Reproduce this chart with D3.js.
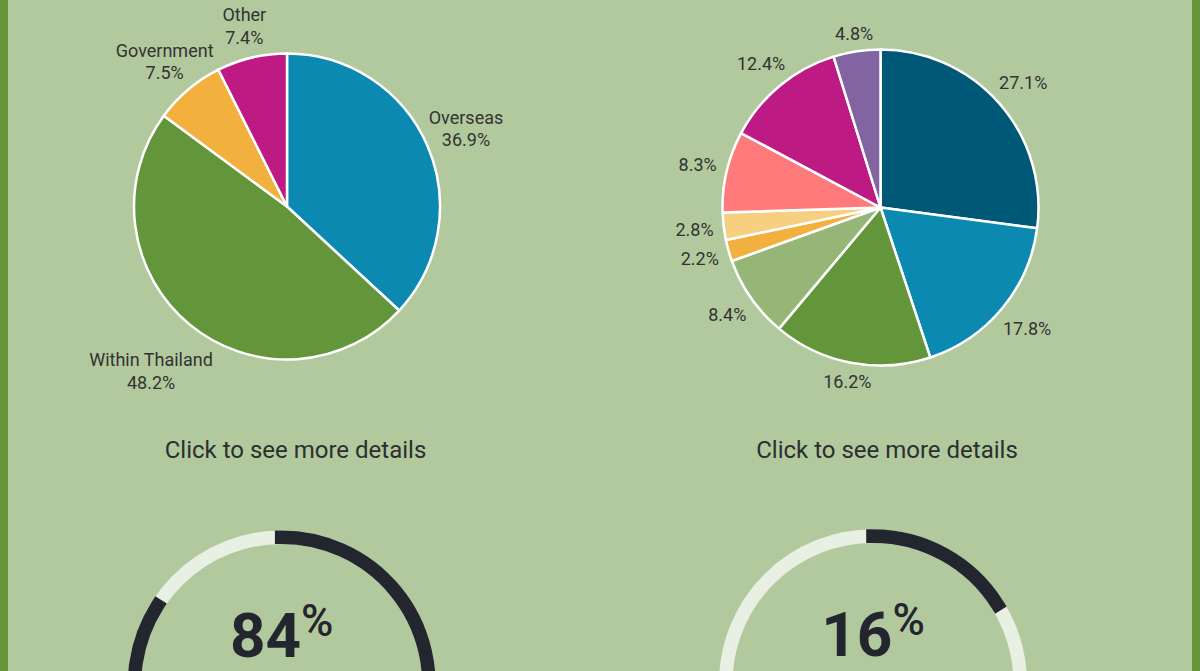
<!DOCTYPE html>
<html><head><meta charset="utf-8">
<script src="https://cdn.jsdelivr.net/npm/d3@7"></script>
<style>
html,body{margin:0;padding:0;background:#b2c99e;}
svg{display:block;font-family:Roboto, "Noto Sans", sans-serif;}
</style></head><body>
<svg id="chart" width="1200" height="671"></svg>
<script>
// ---- data ----
const sourceCategories = ["Overseas", "Within Thailand", "Government", "Other"];
const sourceValues = [36.9, 48.2, 7.5, 7.4];
const sourceColors = ["#0b89b1", "#63953b", "#f2b13f", "#be1a84"];

const detailValues = [27.1, 17.8, 16.2, 8.4, 2.2, 2.8, 8.3, 12.4, 4.8];
const detailColors = ["#005877", "#0b89b1", "#63953b", "#96b677", "#f2b13f", "#f6d080", "#ff7a7b", "#be1a84", "#8264a0"];

const gaugeValues = [84, 16];
const captionText = "Click to see more details";

// ---- layout ----
const W = 1200, H = 671;
const svg = d3.select("#chart");
svg.append("rect").attr("width", W).attr("height", H).attr("fill", "#b2c99e");
svg.append("rect").attr("x", 0).attr("y", 0).attr("width", 8).attr("height", H).attr("fill", "#64963c");
svg.append("rect").attr("x", 1192).attr("y", 0).attr("width", 8).attr("height", H).attr("fill", "#64963c");

const fmt = v => d3.format(".1f")(v) + "%";
const LH = 22.5, CAP = 12.8;

function drawPie(cx, cy, r, pad, values, colors, labelLines) {
  const g = svg.append("g").attr("transform", `translate(${cx},${cy})`);
  const pie = d3.pie().sort(null).value(d => d);
  const arcs = pie(values);
  const arc = d3.arc().innerRadius(0).outerRadius(r);
  g.selectAll("path.slice").data(arcs).join("path")
    .attr("class", "slice")
    .attr("d", arc)
    .attr("fill", (d, i) => colors[i])
    .attr("stroke", "#ffffff")
    .attr("stroke-width", 2.5)
    .attr("stroke-linejoin", "round");

  arcs.forEach((a, i) => {
    const mid = (a.startAngle + a.endAngle) / 2;
    const ux = Math.sin(mid), uy = -Math.cos(mid);
    const lines = labelLines[i];
    const txt = g.append("text")
      .attr("font-size", 18)
      .attr("fill", "#333333")
      .attr("text-anchor", "middle");
    const spans = lines.map(s => txt.append("tspan").attr("x", 0).attr("y", 0).text(s));
    const widths = spans.map(s => s.node().getComputedTextLength());
    const n = lines.length;
    const offs = lines.map((s, j) => (j - (n - 1) / 2) * LH + CAP / 2);
    const ok = t => {
      const px = t * ux, py = t * uy;
      return widths.every((w, j) => {
        const x0 = px - w / 2, x1 = px + w / 2;
        const y1 = py + offs[j], y0 = y1 - CAP;
        const nx = Math.max(x0, Math.min(0, x1));
        const ny = Math.max(y0, Math.min(0, y1));
        return Math.hypot(nx, ny) >= r + pad;
      });
    };
    let t = r * 0.6;
    while (!ok(t) && t < r * 3) t += 0.5;
    spans.forEach((s, j) => s.attr("x", t * ux).attr("y", t * uy + offs[j]));
  });
}

drawPie(287, 206.5, 153, 11, sourceValues, sourceColors,
  sourceCategories.map((c, i) => [c, fmt(sourceValues[i])]));
drawPie(880.5, 207.5, 158, 9.5, detailValues, detailColors,
  detailValues.map(v => [fmt(v)]));

// captions
[[295.5, 457.5], [887, 457.5]].forEach(([x, y]) => {
  svg.append("text").attr("x", x).attr("y", y)
    .attr("text-anchor", "middle")
    .attr("font-size", 24)
    .attr("fill", "#2b2f30")
    .text(captionText);
});

// gauges
const gScale = d3.scaleLinear().domain([0, 100]).range([0, 2 * Math.PI]);
const gaugeCenters = [[281.7, 684.4], [873, 683.3]];
const GR = 147.2, GW = 13.6;
gaugeValues.forEach((v, i) => {
  const [gx, gy] = gaugeCenters[i];
  const g = svg.append("g").attr("transform", `translate(${gx},${gy})`);
  g.append("circle").attr("r", GR).attr("fill", "none")
    .attr("stroke", "#e8efe3").attr("stroke-width", GW);
  const p = d3.path();
  p.arc(0, 0, GR, -Math.PI / 2, gScale(v) - Math.PI / 2);
  g.append("path").attr("d", p.toString()).attr("fill", "none")
    .attr("stroke", "#23262e").attr("stroke-width", GW)
    .attr("stroke-linecap", "square");
  const t = g.append("text").attr("x", 0).attr("y", -27)
    .attr("text-anchor", "middle").attr("fill", "#23262e");
  t.append("tspan").attr("font-size", 62).attr("font-weight", 700).text(String(v));
  t.append("tspan").attr("font-size", 44).attr("font-weight", 500).attr("dy", -21).text("%");
});
</script>
</body></html>
